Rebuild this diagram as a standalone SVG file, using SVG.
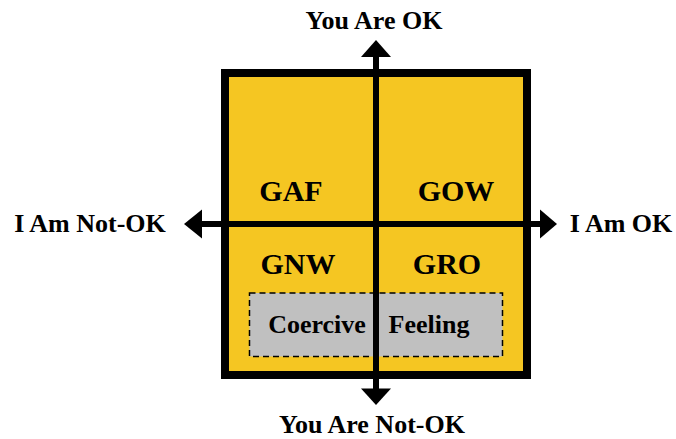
<svg xmlns="http://www.w3.org/2000/svg" width="676" height="439" viewBox="0 0 676 439">
<style>
.lbl{font-family:"Liberation Serif","Times New Roman",serif;font-weight:bold;fill:#000;text-anchor:middle}
.axis{font-size:26px}
.quad{font-size:30px}
.cf{font-size:26px}
.ax{stroke:#000;stroke-width:6;fill:none}
.head{fill:#000}
</style>
<rect width="676" height="439" fill="#fff"/>
<g id="square">
<rect x="225" y="73" width="302" height="302" fill="#F5C622" stroke="#000" stroke-width="8"/>
</g>
<g id="coercive-feeling">
<rect x="249.5" y="293" width="253" height="63.5" fill="#C0C0C0" stroke="#000" stroke-width="1.5" stroke-dasharray="6,4"/>
<text class="lbl cf" x="317" y="333">Coercive</text>
<text class="lbl cf" x="429" y="333">Feeling</text>
</g>
<g id="connectors">
<line class="ax" x1="376" y1="55" x2="376" y2="390"/>
<line class="ax" x1="200" y1="224" x2="542" y2="224" stroke-width="5"/>
<polygon class="head" points="376,40 361,57 391,57"/>
<polygon class="head" points="376,405 361,388.5 391,388.5"/>
<polygon class="head" points="184,224 202,209.5 202,238.5"/>
<polygon class="head" points="557,224 540,209.5 540,238.5"/>
</g>
<g id="GAF"><text class="lbl quad" x="291" y="201">GAF</text></g>
<g id="GOW"><text class="lbl quad" x="456" y="201">GOW</text></g>
<g id="GNW"><text class="lbl quad" x="298" y="274">GNW</text></g>
<g id="GRO"><text class="lbl quad" x="447" y="274">GRO</text></g>
<g id="you-ok"><text class="lbl axis" x="374" y="29">You Are OK</text></g>
<g id="you-not-ok"><text class="lbl axis" x="372" y="433">You Are Not-OK</text></g>
<g id="i-not-ok"><text class="lbl axis" x="90" y="232">I Am Not-OK</text></g>
<g id="i-ok"><text class="lbl axis" x="621" y="232">I Am OK</text></g>
</svg>
